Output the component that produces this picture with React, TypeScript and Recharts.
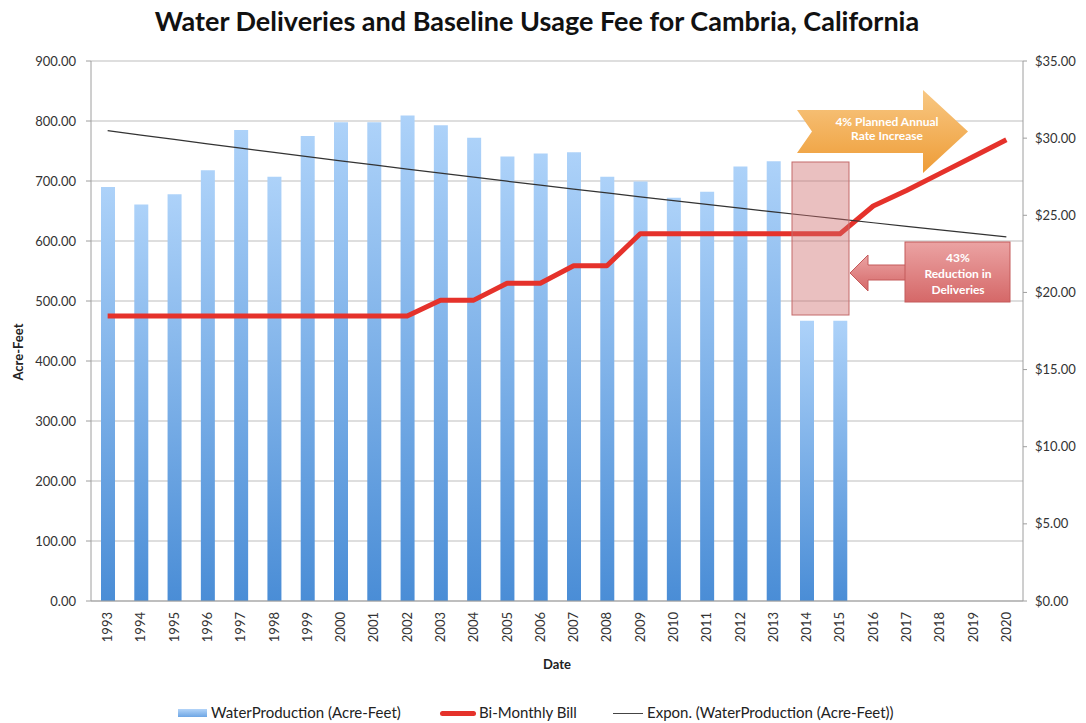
import { ComposedChart, Bar, Line, XAxis, YAxis, CartesianGrid } from 'recharts'

const years = [
  '1993', '1994', '1995', '1996', '1997', '1998', '1999', '2000', '2001', '2002',
  '2003', '2004', '2005', '2006', '2007', '2008', '2009', '2010', '2011', '2012',
  '2013', '2014', '2015', '2016', '2017', '2018', '2019', '2020',
]

// acre-feet, no deliveries reported after 2015
const waterProduction = [
  690, 661, 678, 718, 785, 707, 775, 798, 798, 809,
  793, 772, 741, 746, 748, 707, 699, 672, 682, 724,
  733, 467, 467, null, null, null, null, null,
]

// dollars
const biMonthlyBill = [
  18.47, 18.47, 18.47, 18.47, 18.47, 18.47, 18.47, 18.47, 18.47, 18.47,
  19.5, 19.5, 20.6, 20.6, 21.73, 21.73, 23.8, 23.8, 23.8, 23.8,
  23.8, 23.8, 23.8, 25.6, 26.6, 27.7, 28.8, 29.9,
]

// exponential trendline
const exponTrend = [
  784, 776.6, 769.3, 762.0, 754.8, 747.7, 740.7, 733.7, 726.8, 719.9,
  713.1, 706.4, 699.7, 693.1, 686.6, 680.1, 673.7, 667.3, 661.0, 654.8,
  648.6, 642.5, 636.4, 630.4, 624.5, 618.6, 612.8, 607.0,
]

const leftTicks = [0, 100, 200, 300, 400, 500, 600, 700, 800, 900]
const rightTicks = [0, 5, 10, 15, 20, 25, 30, 35]

const data = years.map((year, i) => ({
  year,
  production: waterProduction[i],
  bill: biMonthlyBill[i],
  trend: exponTrend[i],
}))

const FONT = 'Lato, "Open Sans", sans-serif'

function YearTick({ x, y, payload }: { x: number; y: number; payload: { value: string } }) {
  const ty = y + 11
  return (
    <text
      x={x}
      y={ty}
      transform={`rotate(-90 ${x} ${ty})`}
      textAnchor="end"
      dy="0.35em"
      fontSize={13}
      fill="#333"
      fontFamily={FONT}
    >
      {payload.value}
    </text>
  )
}

function Annotations() {
  const label = { textAnchor: 'middle' as const, fontSize: 12, fontWeight: 700, fill: '#fff', fontFamily: FONT }
  return (
    <svg
      width={1086}
      height={723}
      style={{ position: 'absolute', left: 0, top: 0, pointerEvents: 'none' }}
    >
      <defs>
        <linearGradient id="orangeGrad" x1="0" y1="0" x2="0" y2="1">
          <stop offset="0%" stopColor="#f8c884" />
          <stop offset="100%" stopColor="#ee9c36" />
        </linearGradient>
        <linearGradient id="pinkGrad" x1="0" y1="0" x2="0" y2="1">
          <stop offset="0%" stopColor="#eba3a3" />
          <stop offset="100%" stopColor="#d56868" />
        </linearGradient>
      </defs>
      {/* shaded drought years */}
      <rect x={792} y={162} width={57} height={153} fill="rgba(205,105,105,0.42)" stroke="#c46a6a" strokeWidth={1} />

      {/* planned increase arrow */}
      <polygon
        points="797,110 923,110 923,90 968,131.5 923,173 923,153 797,153 812,131.5"
        fill="url(#orangeGrad)"
      />
      <text x={887} y={126} {...label}>4% Planned Annual</text>
      <text x={887} y={140} {...label}>Rate Increase</text>

      {/* reduction callout */}
      <polygon
        points="850,273 868,255 868,265 906,265 906,280 868,280 868,291"
        fill="url(#pinkGrad)"
        stroke="#c45a5a"
        strokeWidth={1}
      />
      <rect x={905} y={242} width={105} height={60} fill="url(#pinkGrad)" stroke="#c45a5a" strokeWidth={1} />
      <text x={958} y={262} {...label}>43%</text>
      <text x={958} y={278} {...label}>Reduction in</text>
      <text x={958} y={294} {...label}>Deliveries</text>

      <text
        x={18}
        y={352}
        transform="rotate(-90 18 352)"
        textAnchor="middle"
        dy="0.35em"
        fontSize={13}
        fontWeight={700}
        fill="#222"
        fontFamily={FONT}
      >
        Acre-Feet
      </text>
    </svg>
  )
}

function LegendRow() {
  const text = { position: 'absolute' as const, top: 703, fontSize: 15, color: '#222', fontFamily: FONT }
  return (
    <>
      <div
        style={{
          position: 'absolute',
          left: 178,
          top: 709,
          width: 29,
          height: 8,
          background: 'linear-gradient(#b3d4f8, #6ea6e4)',
        }}
      />
      <div style={{ ...text, left: 211 }}>WaterProduction (Acre-Feet)</div>
      <div
        style={{
          position: 'absolute',
          left: 440,
          top: 711,
          width: 36,
          height: 5,
          borderRadius: 3,
          background: '#e5322b',
        }}
      />
      <div style={{ ...text, left: 479 }}>Bi-Monthly Bill</div>
      <div style={{ position: 'absolute', left: 613, top: 713, width: 30, height: 1, background: '#444' }} />
      <div style={{ ...text, left: 647 }}>Expon. (WaterProduction (Acre-Feet))</div>
    </>
  )
}

export default function App() {
  return (
    <div
      style={{
        position: 'absolute',
        left: 0,
        top: 0,
        width: 1086,
        height: 723,
        background: '#fff',
        fontFamily: FONT,
        overflow: 'hidden',
      }}
    >
      <div
        style={{
          position: 'absolute',
          left: 0,
          top: 4,
          width: 1074,
          textAlign: 'center',
          fontSize: 27,
          fontWeight: 700,
          color: '#111',
        }}
      >
        Water Deliveries and Baseline Usage Fee for Cambria, California
      </div>

      <div style={{ position: 'absolute', left: 0, top: 0 }}>
        <ComposedChart
          width={1086}
          height={723}
          data={data}
          margin={{ top: 61, right: 0, bottom: 50, left: 0 }}
          barCategoryGap="58%"
        >
          <defs>
            <linearGradient id="barGrad" x1="0" y1="0" x2="0" y2="1">
              <stop offset="0%" stopColor="#add2f9" />
              <stop offset="100%" stopColor="#4a8dd6" />
            </linearGradient>
          </defs>
          <CartesianGrid yAxisId="left" vertical={false} stroke="#bdbdbd" strokeWidth={1} />
          <XAxis
            dataKey="year"
            height={72}
            interval={0}
            tickLine={false}
            tickSize={0}
            tickMargin={0}
            tick={YearTick as never}
            axisLine={{ stroke: '#9e9e9e' }}
            label={{
              value: 'Date',
              position: 'insideBottom',
              offset: 4,
              style: { fontSize: 13, fontWeight: 700, fill: '#222', fontFamily: FONT },
            }}
          />
          <YAxis
            yAxisId="left"
            width={91}
            domain={[0, 900]}
            ticks={leftTicks}
            tickFormatter={(v: number) => v.toFixed(2)}
            tickSize={5}
            tickMargin={10}
            tick={{ fontSize: 13, fill: '#333', fontFamily: FONT }}
            axisLine={{ stroke: '#9e9e9e' }}
            tickLine={{ stroke: '#9e9e9e' }}
          />
          <YAxis
            yAxisId="right"
            orientation="right"
            width={63}
            domain={[0, 35]}
            ticks={rightTicks}
            tickFormatter={(v: number) => `$${v.toFixed(2)}`}
            tickSize={4}
            tickMargin={8}
            tick={{ fontSize: 13, fill: '#333', fontFamily: FONT }}
            axisLine={{ stroke: '#9e9e9e' }}
            tickLine={{ stroke: '#9e9e9e' }}
          />
          <Bar
            yAxisId="left"
            dataKey="production"
            name="WaterProduction (Acre-Feet)"
            fill="url(#barGrad)"
            barSize={14}
            isAnimationActive={false}
          />
          <Line
            yAxisId="right"
            dataKey="bill"
            name="Bi-Monthly Bill"
            type="linear"
            stroke="#e5322b"
            strokeWidth={5}
            strokeLinejoin="round"
            dot={false}
            activeDot={false}
            isAnimationActive={false}
          />
          <Line
            yAxisId="left"
            dataKey="trend"
            name="Expon. (WaterProduction (Acre-Feet))"
            type="linear"
            stroke="#333"
            strokeWidth={1.2}
            dot={false}
            activeDot={false}
            isAnimationActive={false}
          />
        </ComposedChart>
      </div>

      <Annotations />
      <LegendRow />
    </div>
  )
}
